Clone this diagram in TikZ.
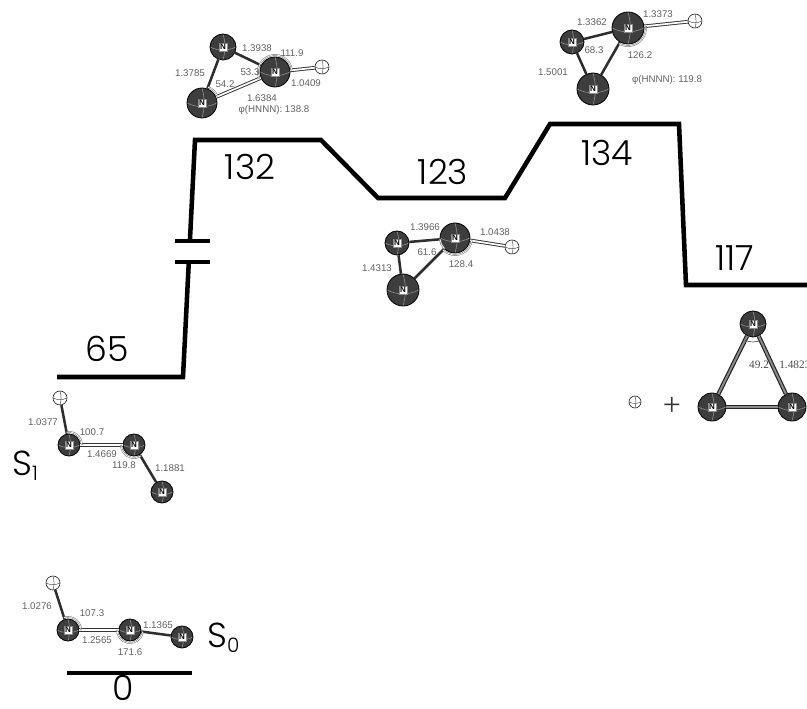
\documentclass[tikz,border=0pt]{standalone}
\usepackage{fontspec}
\setmainfont{Liberation Sans}
\newfontfamily\levelfont{Poppins Light}
\newfontfamily\numserif{Liberation Serif}
% nitrogen atom: shaded ball plus a small white tag
\newcommand\NAtom[3]{\node[natom=#3] (#1) at (#2) {};\node[ntag] at (#1.center) {N};}
\newcommand\HAtom[3]{\node[hatom=#3] (#1) at (#2) {};}
\begin{document}
\begin{tikzpicture}[x=0.75pt,y=-0.75pt,
  level/.style={line width=3.4pt, line join=miter, line cap=butt},
  lvl/.style={font=\levelfont\fontsize{26}{26}\selectfont, anchor=base, inner sep=0pt},
  natom/.style={circle, draw=black, line width=0.6pt, fill=black!76, minimum size=#1*1.5pt, inner sep=0pt,
    path picture={
      \draw[black!40, line width=0.4pt] (path picture bounding box.west) to[bend right=25] (path picture bounding box.east);
      \draw[black!40, line width=0.4pt] (path picture bounding box.north) to[bend left=15] (path picture bounding box.south);}},
  hatom/.style={circle, draw=black!85, line width=0.5pt, fill=white, minimum size=#1*1.5pt, inner sep=0pt,
    path picture={
      \draw[black!70, line width=0.35pt] (path picture bounding box.west) to[bend right=25] (path picture bounding box.east);
      \draw[black!70, line width=0.35pt] (path picture bounding box.north) to[bend left=15] (path picture bounding box.south);}},
  ntag/.style={fill=white, draw=black!45, line width=0.25pt, inner sep=0.9pt, font=\fontsize{6}{6}\selectfont\bfseries},
  bond/.style={draw=black!82, line width=1.9pt},
  tube/.style={draw=black!80, line width=0.7pt, double=white, double distance=1.3pt},
  tri/.style={draw=black!85, line width=0.9pt, double=black!45, double distance=1.4pt},
  ang/.style={draw=black!55, line width=0.4pt, double=white, double distance=0.5pt},
  val/.style={text=black!62, font=\fontsize{7.3}{8}\selectfont, inner sep=0pt},
  sval/.style={text=black!70, font=\numserif\fontsize{8.5}{9}\selectfont, inner sep=0pt},
]
\useasboundingbox (0,0) rectangle (807,709);

% ---------------- energy levels ----------------
\coordinate (p1) at (57,377);
\coordinate (p2) at (183,377);
\coordinate (brkLo) at (188.8,262);
\coordinate (brkHi) at (189.9,241);
\coordinate (p3) at (195,140);
\coordinate (p4) at (321,140);
\coordinate (p5) at (378,198);
\coordinate (p6) at (505,198);
\coordinate (p7) at (550,124);
\coordinate (p8) at (679,124);
\coordinate (p9) at (686,285);
\coordinate (p10) at (807,285);
\coordinate (g1) at (67,673);
\coordinate (g2) at (192,673);
\coordinate (bl1) at (175,262);
\coordinate (br1) at (210,262);
\coordinate (bl2) at (175,241);
\coordinate (br2) at (210,241);

\draw[level] (p1) -- (p2) -- (brkLo);
\draw[level] (brkHi) -- (p3) -- (p4) -- (p5) -- (p6) -- (p7) -- (p8) -- (p9) -- (p10);
\draw[level] (bl1) -- (br1);
\draw[level] (bl2) -- (br2);
\draw[level] (g1) -- (g2);

\node[lvl] (e65) at (107,362) {65};
\node[lvl] (e132) at (250,180) {132};
\node[lvl] (e123) at (443,185) {123};
\node[lvl] (e134) at (607,166) {134};
\node[lvl] (e117) at (735,271) {117};
\node[lvl] (e0) at (123,700) {0};
\node[lvl, anchor=base west] (s1) at (12,475) {S\raisebox{-3.8pt}{\fontsize{15}{15}\selectfont 1}};
\node[lvl, anchor=base west] (s0) at (207,647) {S\raisebox{-3.8pt}{\fontsize{15}{15}\selectfont 0}};

% ---------------- HN3 at 132 ----------------
\NAtom{a1}{223,47}{13}
\NAtom{a2}{275,72}{15}
\NAtom{a3}{202,103}{15}
\HAtom{h1}{322,67}{7}
\draw[bond] (a1) -- (a2);
\draw[bond] (a1) -- (a3);
\draw[tube] (a3) -- (a2);
\draw[tube] (a2) -- (h1);
\draw[ang] (a2) ++(157:17) arc[start angle=157, end angle=206, radius=17];
\draw[ang] (a2) ++(206:17) arc[start angle=206, end angle=354, radius=17];
\draw[ang] (a3) ++(291:17) arc[start angle=291, end angle=337, radius=17];
\node[val] at (257,48) {1.3938};
\node[val] at (292,53) {111.9};
\node[val] at (190,73) {1.3785};
\node[val] at (250,72) {53.3};
\node[val] at (225,84) {54.2};
\node[val] at (306,83) {1.0409};
\node[val] at (262,98) {1.6384};
\node[val] at (274,110) {φ(HNNN): 138.8};

% ---------------- HN3 at 134 ----------------
\NAtom{b1}{572,42}{12}
\NAtom{b2}{628,28}{16}
\NAtom{b3}{593,89}{16}
\HAtom{h2}{695,21}{7}
\draw[bond] (b1) -- (b2);
\draw[bond] (b1) -- (b3);
\draw[bond] (b2) -- (b3);
\draw[tube] (b2) -- (h2);
\draw[ang] (b2) ++(-6:18) arc[start angle=-6, end angle=120, radius=18];
\node[val] at (592,22) {1.3362};
\node[val] at (658,14) {1.3373};
\node[val] at (594,50) {68.3};
\node[val] at (640,55) {126.2};
\node[val] at (553,72) {1.5001};
\node[val] at (667,80) {φ(HNNN): 119.8};

% ---------------- HN3 at 123 ----------------
\NAtom{c1}{397,243}{12}
\NAtom{c2}{455,238}{15}
\NAtom{c3}{403,290}{16}
\HAtom{h3}{512,247}{7}
\draw[bond] (c1) -- (c2);
\draw[bond] (c1) -- (c3);
\draw[bond] (c2) -- (c3);
\draw[tube] (c2) -- (h3);
\draw[ang] (c2) ++(9:17) arc[start angle=9, end angle=135, radius=17];
\draw[ang] (c2) ++(135:15) arc[start angle=135, end angle=175, radius=15];
\node[val] at (425,227) {1.3966};
\node[val] at (495,232) {1.0438};
\node[val] at (427,252) {61.6};
\node[val] at (461,264) {128.4};
\node[val] at (377,268) {1.4313};

% ---------------- H + cyclic N3 at 117 ----------------
\NAtom{d1}{753,324}{13}
\NAtom{d2}{712,407}{14}
\NAtom{d3}{792,407}{14}
\HAtom{h4}{635,402}{6}
\draw[tri] (d1) -- (d2);
\draw[tri] (d1) -- (d3);
\draw[tri] (d2) -- (d3);
\draw[black!70, line width=0.5pt] (d1) ++(66:18) arc[start angle=66, end angle=116, radius=18];
\node[font=\numserif\fontsize{24}{24}\selectfont, text=black!80, inner sep=0pt] (plus) at (672,406) {+};
\node[sval] at (759,365) {49.2};
\node[sval, anchor=west] at (779,365) {1.4823};

% ---------------- HN3 in S1 ----------------
\HAtom{e0}{60,398}{7}
\NAtom{e1}{69,445}{11}
\NAtom{e2}{134,445}{11}
\NAtom{e3}{162,492}{11}
\draw[bond] (e0) -- (e1);
\draw[tube] (e1) -- (e2);
\draw[bond] (e2) -- (e3);
\draw[ang] (e1) ++(259:13) arc[start angle=259, end angle=360, radius=13];
\draw[ang] (e2) ++(59:13) arc[start angle=59, end angle=180, radius=13];
\node[val] at (43,422) {1.0377};
\node[val] at (92,432) {100.7};
\node[val] at (102,454) {1.4669};
\node[val] at (124,465) {119.8};
\node[val] at (170,468) {1.1881};

% ---------------- HN3 in S0 ----------------
\HAtom{f0}{53,583}{7}
\NAtom{f1}{68,630}{11}
\NAtom{f2}{130,630}{11}
\NAtom{f3}{182,637}{11}
\draw[bond] (f0) -- (f1);
\draw[tube] (f1) -- (f2);
\draw[bond] (f2) -- (f3);
\draw[ang] (f1) ++(252:13) arc[start angle=252, end angle=360, radius=13];
\draw[ang] (f2) ++(8:13) arc[start angle=8, end angle=180, radius=13];
\node[val] at (37,606) {1.0276};
\node[val] at (92,613) {107.3};
\node[val] at (97,640) {1.2565};
\node[val] at (130,652) {171.6};
\node[val] at (158,625) {1.1365};
\end{tikzpicture}
\end{document}
